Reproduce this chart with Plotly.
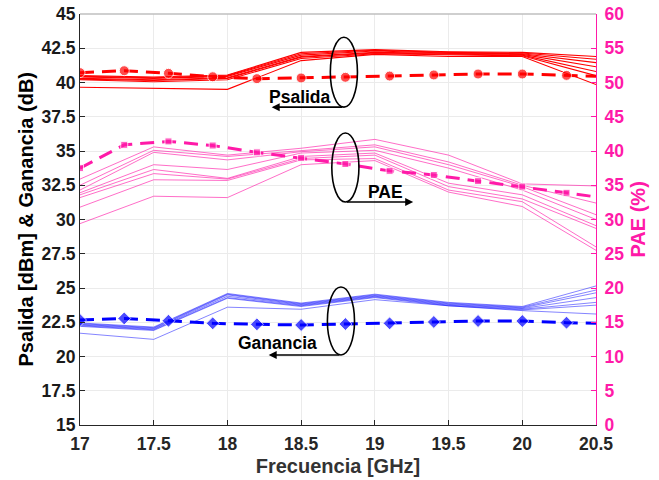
import plotly.graph_objects as go

# ---------------- data ----------------
freq = [17.0, 17.5, 18.0, 18.5, 19.0, 19.5, 20.0, 20.5]
freq_sim = [17.0, 17.3, 17.6, 17.9, 18.2, 18.5, 18.8, 19.1, 19.4, 19.7, 20.0, 20.3, 20.5]

psal_meas = [
    [40.50, 40.40, 40.55, 42.20, 42.40, 42.25, 42.20, 41.90],
    [40.45, 40.35, 40.50, 42.10, 42.35, 42.20, 42.15, 41.70],
    [40.40, 40.30, 40.45, 42.00, 42.30, 42.15, 42.10, 41.45],
    [40.30, 40.20, 40.35, 41.90, 42.20, 42.10, 42.05, 41.15],
    [40.25, 40.15, 40.30, 41.85, 42.15, 42.05, 42.00, 40.80],
    [40.20, 40.05, 40.20, 41.75, 42.10, 42.00, 41.95, 40.50],
    [39.65, 39.55, 39.50, 41.60, 42.05, 41.90, 41.90, 39.85],
]
pae_meas = [
    [35.9, 40.6, 39.4, 40.4, 41.7, 39.4, 35.2, 34.9],
    [35.0, 40.1, 39.2, 40.1, 40.9, 38.4, 35.0, 32.4],
    [34.3, 39.8, 38.7, 39.9, 40.6, 38.0, 34.8, 30.7],
    [33.9, 38.0, 37.3, 39.7, 40.1, 37.5, 34.3, 30.0],
    [33.6, 37.3, 36.0, 39.2, 39.7, 35.3, 33.6, 29.1],
    [33.2, 36.7, 35.9, 38.9, 39.4, 34.8, 33.0, 28.7],
    [31.8, 35.8, 35.7, 38.7, 38.9, 34.3, 32.6, 26.0],
    [29.4, 33.4, 33.2, 38.0, 38.6, 34.0, 31.9, 25.5],
]
gan_meas = [
    [22.45, 22.15, 24.60, 23.90, 24.55, 23.95, 23.65, 25.15],
    [22.40, 22.10, 24.55, 23.85, 24.50, 23.90, 23.60, 24.85],
    [22.35, 22.05, 24.50, 23.80, 24.45, 23.85, 23.55, 24.65],
    [22.30, 22.00, 24.40, 23.75, 24.40, 23.80, 23.50, 24.30],
    [22.25, 21.95, 24.30, 23.70, 24.35, 23.75, 23.45, 23.95],
    [22.20, 21.90, 24.25, 23.65, 24.30, 23.70, 23.40, 23.75],
    [21.70, 21.25, 23.60, 23.45, 24.15, 23.70, 23.35, 23.10],
]
psal_sim = [40.72, 40.86, 40.67, 40.42, 40.28, 40.33, 40.38, 40.47, 40.55, 40.62, 40.62, 40.52, 40.45]
pae_sim = [37.5, 40.9, 41.4, 40.8, 39.8, 39.0, 38.1, 37.1, 36.5, 35.6, 34.8, 33.9, 33.3]
gan_sim = [22.66, 22.78, 22.61, 22.42, 22.35, 22.30, 22.37, 22.42, 22.52, 22.59, 22.59, 22.47, 22.42]

left_ticks = [15, 17.5, 20, 22.5, 25, 27.5, 30, 32.5, 35, 37.5, 40, 42.5, 45]
right_ticks = [0, 5, 10, 15, 20, 25, 30, 35, 40, 45, 50, 55, 60]
x_ticks = [17, 17.5, 18, 18.5, 19, 19.5, 20, 20.5]

# ---------------- styles ----------------
RED = "#ff0000"
PINK = "#ff1aa8"
BLUE = "#0000ff"
FONT = "Liberation Sans"
TICK = 17.5
TITLE = 20

fig = go.Figure()

for row in psal_meas:
    fig.add_trace(go.Scatter(x=freq, y=row, mode="lines",
                             line=dict(color=RED, width=1.1), showlegend=False))
for row in gan_meas:
    fig.add_trace(go.Scatter(x=freq, y=row, mode="lines",
                             line=dict(color=BLUE, width=0.8), opacity=0.6, showlegend=False))
for row in pae_meas:
    fig.add_trace(go.Scatter(x=freq, y=row, mode="lines", yaxis="y2",
                             line=dict(color=PINK, width=0.9), opacity=0.7, showlegend=False))

msizes = [1] * (len(freq_sim) - 1) + [0]
DASH = "14px,8px"

fig.add_trace(go.Scatter(x=freq_sim, y=psal_sim, mode="lines+markers",
                         line=dict(color=RED, width=3, dash=DASH),
                         marker=dict(symbol="circle", size=[s * 10 for s in msizes], color=RED),
                         showlegend=False))
fig.add_trace(go.Scatter(x=freq_sim, y=gan_sim, mode="lines+markers",
                         line=dict(color=BLUE, width=3, dash=DASH),
                         marker=dict(symbol="diamond", size=[s * 10 for s in msizes], color=BLUE),
                         showlegend=False))
fig.add_trace(go.Scatter(x=freq_sim, y=pae_sim, mode="lines+markers", yaxis="y2",
                         line=dict(color=PINK, width=3, dash=DASH),
                         marker=dict(symbol="square", size=[s * 7 for s in msizes], color=PINK),
                         showlegend=False))

# ellipses
for (yc0, yc1, xc) in [(38.2, 43.3, 18.79), (31.28, 36.31, 18.80), (20.11, 25.07, 18.77)]:
    fig.add_shape(type="circle", xref="x", yref="y", x0=xc - 0.092, x1=xc + 0.092,
                  y0=yc0, y1=yc1, line=dict(color="black", width=1.6))

# arrows + labels
arrows = [
    (18.30, 38.2, 18.79, 38.2),
    (19.26, 31.28, 18.80, 31.28),
    (18.28, 20.11, 18.77, 20.11),
]
for (hx, hy, tx, ty) in arrows:
    fig.add_annotation(x=hx, y=hy, ax=tx, ay=ty, xref="x", yref="y", axref="x", ayref="y",
                       showarrow=True, arrowhead=2, arrowsize=1, arrowwidth=1.6,
                       arrowcolor="black", text="")

for (txt, tx, ty) in [("Psalida", 18.49, 38.95), ("PAE", 19.07, 32.0), ("Ganancia", 18.34, 20.98)]:
    fig.add_annotation(x=tx, y=ty, xref="x", yref="y", text=txt, showarrow=False,
                       font=dict(family=FONT, size=17.5, color="black", weight="bold"))

# y-axis titles placed as rotated texts beside the axes
fig.add_annotation(x=0, y=0.5, xref="paper", yref="paper", xanchor="center", yanchor="middle",
                   xshift=-55, textangle=-90, showarrow=False,
                   text="Psalida [dBm] & Ganancia (dB)",
                   font=dict(family=FONT, size=TITLE, color="black", weight="bold"))
fig.add_annotation(x=1, y=0.5, xref="paper", yref="paper", xanchor="center", yanchor="middle",
                   xshift=41, textangle=-90, showarrow=False,
                   text="PAE (%)",
                   font=dict(family=FONT, size=TITLE, color=PINK, weight="bold"))

fig.update_layout(
    width=659, height=480,
    margin=dict(l=80, r=63, t=14, b=55),
    paper_bgcolor="white", plot_bgcolor="white",
    font=dict(family=FONT, size=TICK, color="#262626", weight="bold"),
    xaxis=dict(range=[17, 20.5], tickvals=x_ticks, ticktext=[f"{v:g}" for v in x_ticks],
               automargin=False, ticklabelstandoff=3,
               showgrid=True, gridcolor="#ebebeb", gridwidth=1,
               showline=True, linecolor="#262626", linewidth=1, mirror=False,
               ticks="inside", ticklen=5, tickcolor="#262626",
               tickfont=dict(size=TICK),
               title=dict(text="Frecuencia [GHz]", font=dict(size=TITLE, color="#333333", weight="bold"),
                          standoff=5),
               zeroline=False),
    yaxis=dict(range=[15, 45], tickvals=left_ticks, ticktext=[f"{v:g}" for v in left_ticks],
               automargin=False, ticklabeloverflow="allow",
               showgrid=True, gridcolor="#ebebeb", gridwidth=1,
               showline=True, linecolor="#262626", linewidth=1,
               ticks="inside", ticklen=5, tickcolor="#262626",
               tickfont=dict(color="#1a1a1a", size=TICK),
               zeroline=False),
    yaxis2=dict(range=[0, 60], tickvals=right_ticks, overlaying="y", side="right",
                automargin=False, ticklabeloverflow="allow", ticklabelstandoff=4,
                showgrid=False, showline=True, linecolor=PINK, linewidth=1,
                ticks="inside", ticklen=5, tickcolor=PINK,
                tickfont=dict(color=PINK, size=TICK),
                zeroline=False),
)
# top frame line
fig.add_shape(type="line", xref="paper", yref="paper", x0=0, x1=1, y0=1, y1=1,
              line=dict(color="#bfbfbf", width=1.5))

# remove the default page margin so the figure sits at the window's top-left corner
fig.write_html("out.html", config={"displayModeBar": False},
               post_script="document.body.style.margin='0';")
